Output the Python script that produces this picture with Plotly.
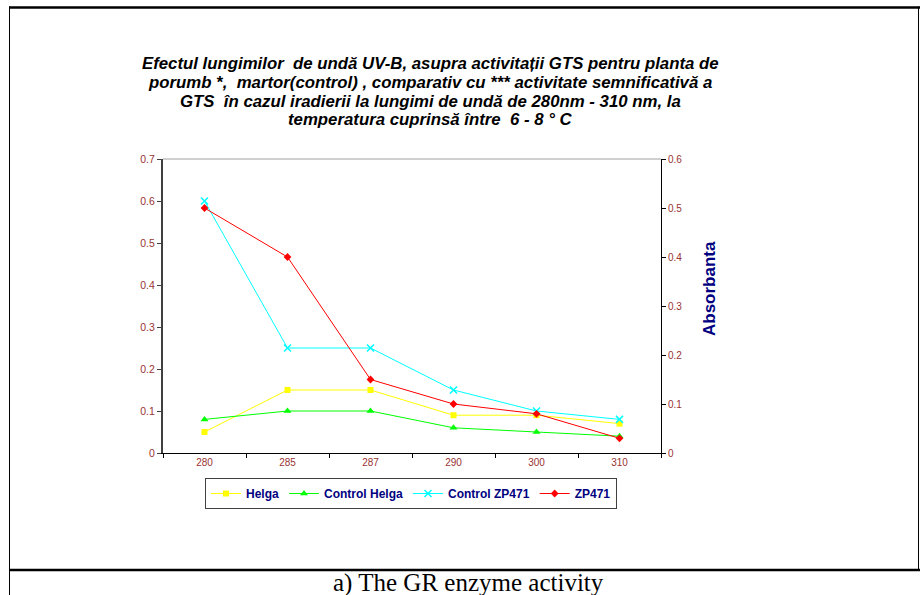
import plotly.graph_objects as go

categories = ["280", "285", "287", "290", "300", "310"]
helga = [0.05, 0.15, 0.15, 0.09, 0.09, 0.07]
control_helga = [0.08, 0.10, 0.10, 0.06, 0.05, 0.04]
control_zp471 = [0.60, 0.25, 0.25, 0.15, 0.10, 0.08]
zp471 = [0.50, 0.40, 0.15, 0.10, 0.08, 0.03]

left_ticks = [0, 0.1, 0.2, 0.3, 0.4, 0.5, 0.6, 0.7]
right_ticks = [0, 0.1, 0.2, 0.3, 0.4, 0.5, 0.6]

title_lines = [
    "Efectul lungimilor  de undă UV-B, asupra activitații GTS pentru planta de",
    "porumb *,  martor(control) , comparativ cu *** activitate semnificativă a",
    "GTS  în cazul iradierii la lungimi de undă de 280nm - 310 nm, la",
    "temperatura cuprinsă între  6 - 8 ° C",
]

W, H = 920, 595
L, R, T, B = 163, 661, 159, 453  # plot area in pixels


def px(x):
    return (x - L) / (R - L)


def py(y):
    return (B - y) / (B - T)


FONT = "Liberation Sans, Arial, sans-serif"
TICKCOL = "#993333"
NAVY = "#000080"

fig = go.Figure()
fig.add_trace(go.Scatter(x=categories, y=helga, name="Helga", mode="lines+markers",
                         line=dict(color="#FFFF00", width=1),
                         marker=dict(symbol="square", size=6, color="#FFFF00")))
fig.add_trace(go.Scatter(x=categories, y=control_helga, name="Control Helga", mode="lines+markers",
                         line=dict(color="#00FF00", width=1),
                         marker=dict(symbol="triangle-up", size=7, color="#00FF00")))
fig.add_trace(go.Scatter(x=categories, y=control_zp471, name="Control ZP471", mode="lines+markers",
                         line=dict(color="#00FFFF", width=1),
                         marker=dict(symbol="x-thin", size=7, line=dict(color="#00FFFF", width=1.5))))
fig.add_trace(go.Scatter(x=categories, y=zp471, name="ZP471", mode="lines+markers", yaxis="y2",
                         line=dict(color="#FF0000", width=1),
                         marker=dict(symbol="diamond", size=6, color="#FF0000")))

annotations = []
for i, (line, yc) in enumerate(zip(title_lines, [64, 83, 102, 120])):
    annotations.append(dict(text="<b><i>" + line + "</i></b>", x=px(430), y=py(yc),
                            xref="paper", yref="paper", showarrow=False,
                            font=dict(family=FONT, size=16.8, color="black"),
                            xanchor="center", yanchor="middle"))
annotations += [
    dict(text="<b>Absorbanta</b>", x=px(709), y=py(289), xref="paper", yref="paper",
         showarrow=False, textangle=-90, font=dict(family=FONT, size=17, color=NAVY),
         xanchor="center", yanchor="middle"),
    dict(text="a) The GR enzyme activity", x=px(468), y=py(583), xref="paper", yref="paper",
         showarrow=False, font=dict(family="Liberation Serif, Times New Roman, serif", size=25, color="black"),
         xanchor="center", yanchor="middle"),
]

shapes = [
    dict(type="line", xref="paper", yref="paper", x0=0, x1=1, y0=1, y1=1, line=dict(color="#A0A0A0", width=1)),
    dict(type="line", xref="paper", yref="paper", x0=px(9), x1=px(920), y0=py(7.5), y1=py(7.5), line=dict(color="black", width=2.5)),
    dict(type="line", xref="paper", yref="paper", x0=px(9.5), x1=px(9.5), y0=py(6.5), y1=py(595), line=dict(color="black", width=1)),
    dict(type="line", xref="paper", yref="paper", x0=px(918.5), x1=px(918.5), y0=py(6.5), y1=py(571), line=dict(color="black", width=1)),
    dict(type="line", xref="paper", yref="paper", x0=px(9), x1=px(920), y0=py(570), y1=py(570), line=dict(color="black", width=2.5)),
]

fig.update_layout(
    width=W, height=H, autosize=False,
    margin=dict(l=L, r=W - R, t=T, b=H - B, pad=0),
    paper_bgcolor="white", plot_bgcolor="white",
    showlegend=True,
    legend=dict(orientation="h", x=px(411), y=py(478), xanchor="center", yanchor="top",
                bordercolor="#404040", borderwidth=1, bgcolor="white",
                font=dict(family=FONT, size=12, color=NAVY, weight="bold"),
                itemwidth=30, tracegroupgap=0),
    xaxis=dict(type="category", range=[-0.5, 5.5], tickson="boundaries", ticks="outside", ticklen=4,
               tickcolor="black", showline=True, linecolor="black", linewidth=1,
               showgrid=False, zeroline=False,
               tickfont=dict(family=FONT, size=10, color=TICKCOL)),
    yaxis=dict(range=[0, 0.7], tickvals=left_ticks, ticktext=[f"{v:g}" for v in left_ticks],
               ticks="outside", ticklen=4, tickcolor="#404040",
               showline=True, linecolor="#404040", linewidth=2, showgrid=False, zeroline=False,
               tickfont=dict(family=FONT, size=10.5, color=TICKCOL)),
    yaxis2=dict(range=[0, 0.6], tickvals=right_ticks, ticktext=[f"{v:g}" for v in right_ticks],
                overlaying="y", side="right", ticks="outside", ticklen=4, tickcolor="black",
                showline=True, linecolor="black", linewidth=1, showgrid=False, zeroline=False,
                tickfont=dict(family=FONT, size=10, color=TICKCOL)),
    annotations=annotations,
    shapes=shapes,
)

fig.for_each_trace(lambda t: t.update(cliponaxis=False))

fig.write_html("out.html", post_script="document.body.style.margin='0';",
               config={"displayModeBar": False})
